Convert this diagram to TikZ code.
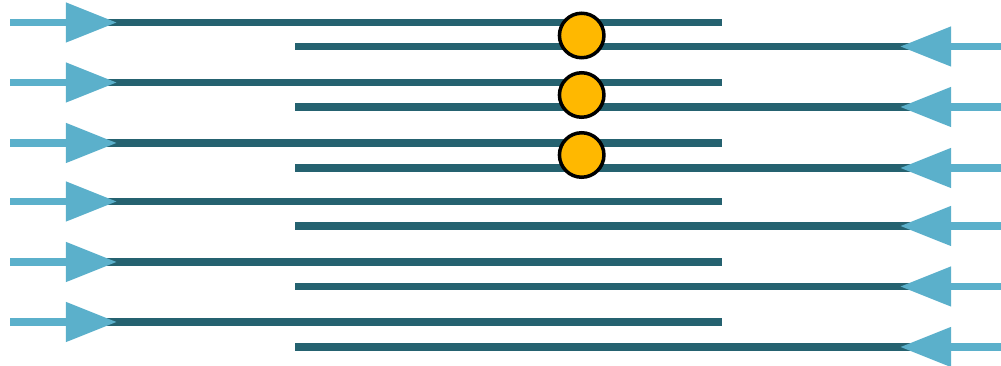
\documentclass[tikz,border=0pt]{standalone}
\usetikzlibrary{arrows.meta}
\definecolor{wirecol}{RGB}{37,98,112}
\definecolor{feedcol}{RGB}{91,176,203}
\definecolor{dotcol}{RGB}{255,184,0}
\tikzset{
  wire/.style={wirecol, line width=1.5mm},
  feed/.style={feedcol, line width=1.5mm, -{Triangle[length=10.2mm,width=7.6mm]}},
  dot/.style={circle, draw=black, line width=0.7mm, fill=dotcol, minimum size=8.9mm, inner sep=0pt},
}

\begin{document}
\begin{tikzpicture}[x=0.2mm, y=-0.2mm]
\useasboundingbox (0,0) rectangle (1001,366);
%---- wires from the left
\foreach \y [count=\i] in {22.5,82.5,143,201.5,262,322}{
  \coordinate (la\i) at (10,\y);
  \coordinate (lb\i) at (117,\y);
  \coordinate (ls\i) at (100,\y);
  \coordinate (le\i) at (722,\y);
  \draw[wire] (ls\i) -- (le\i);
  \draw[feed] (la\i) -- (lb\i);}
%---- wires from the right
\foreach \y [count=\i] in {46.5,107,168,226,286.5,347}{
  \coordinate (ra\i) at (1001,\y);
  \coordinate (rb\i) at (900,\y);
  \coordinate (rs\i) at (910,\y);
  \coordinate (re\i) at (295,\y);
  \draw[wire] (re\i) -- (rs\i);
  \draw[feed] (ra\i) -- (rb\i);}
%---- the dots
\foreach \y [count=\i] in {35.5,95,155}
  \node[dot] (d\i) at (581.7,\y) {};
\end{tikzpicture}
\end{document}
